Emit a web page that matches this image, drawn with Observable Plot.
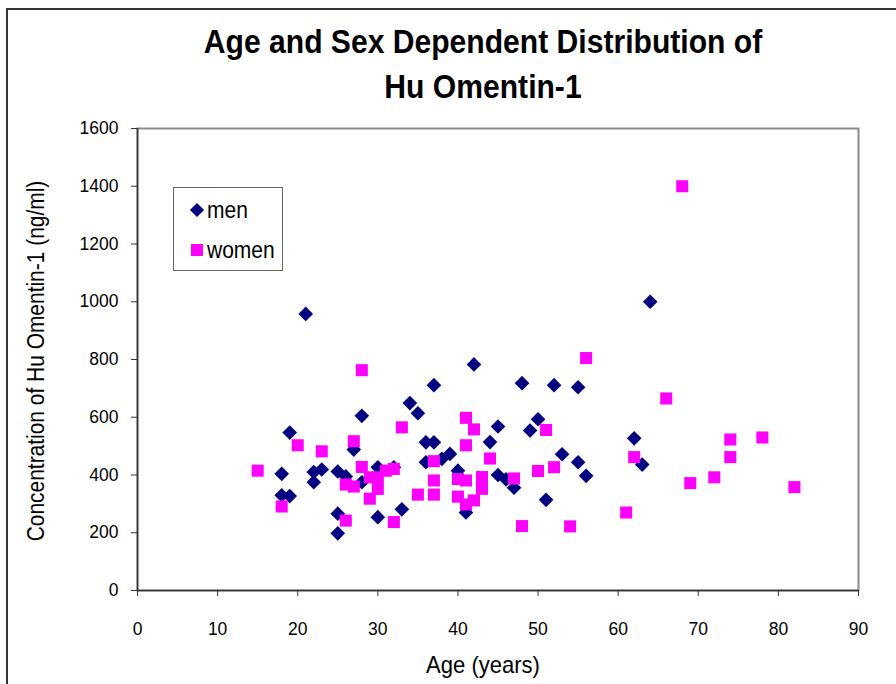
<!DOCTYPE html>
<html>
<head>
<meta charset="utf-8">
<script src="https://cdn.jsdelivr.net/npm/d3@7"></script>
<script src="https://cdn.jsdelivr.net/npm/@observablehq/plot@0.6"></script>
<style>
  html, body { margin: 0; padding: 0; background: #fff; }
  #wrap { position: relative; width: 896px; height: 684px; overflow: hidden; background: #fff;
          font-family: "Liberation Sans", Arial, sans-serif; color: #000; }
  #frame { position: absolute; left: 6px; top: 8px; width: 1000px; height: 1000px; border: 2px solid #333; }
  #title { position: absolute; left: 0; width: 966px; top: 19px; text-align: center; font-weight: bold;
           font-size: 34px; line-height: 45px; transform: scaleX(0.885); transform-origin: 483px 0; }
  #chart { position: absolute; left: 0; top: 0; }
  #ylab { position: absolute; left: 36px; top: 361px; transform: translate(-50%, -50%) rotate(-90deg) scaleX(0.91);
          white-space: nowrap; font-size: 23px; }
  #xlab { position: absolute; left: 483px; top: 665px; transform: translate(-50%, -50%) scaleX(0.917);
          white-space: nowrap; font-size: 24px; }
  #legend { position: absolute; left: 173px; top: 187px; width: 108px; height: 82px; border: 1px solid #666; background: #fff; }
  .lrow { position: absolute; left: 0; height: 30px; line-height: 30px; font-size: 23px; transform: scaleX(0.913); transform-origin: 0 50%; }
  .sym { position: absolute; }
</style>
</head>
<body>
<div id="wrap">
  <div id="frame"></div>
  <div id="chart"></div>
  <div id="title">Age and Sex Dependent Distribution of<br>Hu Omentin-1</div>
  <div id="ylab">Concentration of Hu Omentin-1 (ng/ml)</div>
  <div id="xlab">Age (years)</div>
  <div id="legend">
    <div class="sym" style="left:18px;top:17px;width:10px;height:10px;background:#000080;transform:rotate(45deg);"></div>
    <div class="lrow" style="top:7px;left:33px;">men</div>
    <div class="sym" style="left:17px;top:56px;width:12px;height:12px;background:#FF00FF;"></div>
    <div class="lrow" style="top:47px;left:33px;">women</div>
  </div>
</div>
<script>
// Men (navy diamonds)
const menAge  = [18,18,19,19,21,22,22,23,25,25,25,26,27,28,28,30,30,32,33,34,35,36,36,37,37,38,39,40,41,42,44,45,45,46,47,48,49,50,51,52,53,55,55,56,62,63,64];
const menConc = [404,330,327,547,958,375,410,419,412,266,198,395,488,605,375,427,254,427,281,649,614,513,444,513,711,456,473,415,270,783,514,568,400,385,356,718,554,593,314,711,472,704,444,397,527,436,1000];
// Women (magenta squares)
const womenAge  = [15,18,20,23,26,26,27,27,28,28,29,29,30,30,31,32,32,33,35,37,37,37,40,40,41,41,41,41,42,42,43,43,44,47,48,50,51,52,54,56,61,62,66,68,69,72,74,74,78,82];
const womenConc = [415,291,503,482,367,242,517,360,763,428,392,318,392,352,415,421,237,565,332,448,381,332,386,325,598,503,381,298,558,312,393,352,457,388,223,414,556,427,222,805,270,462,665,1400,372,392,523,462,530,358];
// Axis ticks
const xTicks = [0,10,20,30,40,50,60,70,80,90];
const yTicks = [0,200,400,600,800,1000,1200,1400,1600];

const men = menAge.map((a, i) => ({age: a, conc: menConc[i]}));
const women = womenAge.map((a, i) => ({age: a, conc: womenConc[i]}));

const chart = Plot.plot({
  width: 896,
  height: 684,
  marginTop: 128,
  marginLeft: 137,
  marginRight: 38,
  marginBottom: 94,
  style: {background: "transparent", fontFamily: '"Liberation Sans", Arial, sans-serif', fontSize: "17.5px", color: "#000", overflow: "visible"},
  x: {domain: [0, 90]},
  y: {domain: [0, 1600]},
  marks: [
    Plot.frame({stroke: "#8a8a8a", strokeWidth: 2}),
    Plot.axisX({ticks: xTicks, tickSize: 6, tickPadding: 26, label: null, fontSize: 17.5, stroke: "#333", tickFormat: d => String(d)}),
    Plot.axisY({ticks: yTicks, tickSize: 6, tickPadding: 13, label: null, fontSize: 17.5, stroke: "#333", tickFormat: d => String(d)}),
    Plot.ruleX([0], {stroke: "#333", strokeWidth: 1.5}),
    Plot.ruleY([0], {stroke: "#333", strokeWidth: 1.5}),
    Plot.dot(men, {x: "age", y: "conc", symbol: "diamond2", fill: "#000080", r: 6.6}),
    Plot.dot(women, {x: "age", y: "conc", symbol: "square", fill: "#FF00FF", r: 6.8})
  ]
});
document.getElementById("chart").appendChild(chart);
</script>
</body>
</html>
